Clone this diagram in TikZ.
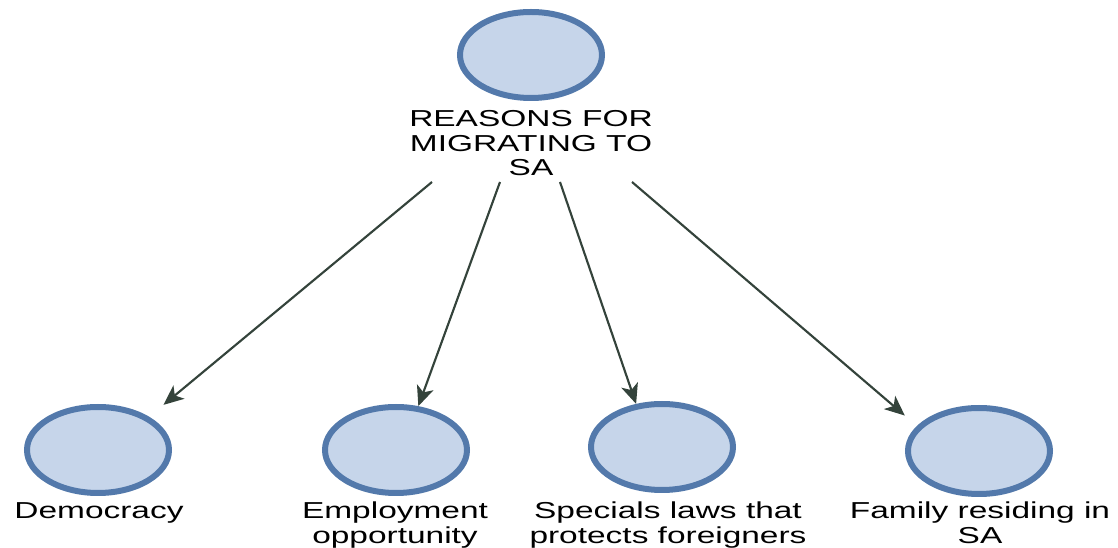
\documentclass[tikz,border=0pt]{standalone}
\usepackage{fontspec}
\newfontfamily\lblfont[FakeStretch=1.45]{Liberation Sans}
\usepackage{tikz}
\usetikzlibrary{%
   arrows.meta,%
   shapes.geometric,%
   positioning}
\definecolor{bubfill}{HTML}{C6D5EA}
\definecolor{bubline}{HTML}{5379AB}
\definecolor{linkcol}{HTML}{34433B}
\begin{document}
\begin{tikzpicture}
[typeR/.style={ellipse,draw=bubline,fill=bubfill,line width=4.5pt,inner sep=0pt,minimum width=106.5pt,minimum height=64.5pt},
 typeL/.style={inner sep=0pt,align=center,anchor=north,font=\lblfont\fontsize{17.3}{18.6}\selectfont},
 link/.style={draw=linkcol,line width=1.6pt,-{Stealth[length=15pt,width=13pt,inset=4pt]}}]
\begin{scope}[x=0.75pt,y=-0.75pt]
\useasboundingbox (0,0) rectangle (1118,548);
\node[typeR] (R)    at (531, 55) {};
\node[typeR] (D)    at ( 98,450) {};
\node[typeR] (E)    at (396,450) {};
\node[typeR] (S)    at (662,447) {};
\node[typeR] (F)    at (979,451) {};
\node[typeL] (Rtxt) at (531,110) {REASONS FOR\\MIGRATING TO\\SA};
\node[typeL] (Dtxt) at ( 99,502) {Democracy};
\node[typeL] (Etxt) at (395,502) {Employment\\opportunity};
\node[typeL] (Stxt) at (668,502) {Specials laws that\\protects foreigners};
\node[typeL] (Ftxt) at (980,502) {Family residing in\\SA};
\coordinate (fromD) at (432,182);
\coordinate (fromE) at (500,182);
\coordinate (fromS) at (560,182);
\coordinate (fromF) at (632,182);
\path (fromD) edge[link,shorten >=14pt] (D.33)
      (fromE) edge[link] (E.63)
      (fromS) edge[link] (S.121)
      (fromF) edge[link,shorten >=12pt] (F.158);
\end{scope}
\end{tikzpicture}
\end{document}
